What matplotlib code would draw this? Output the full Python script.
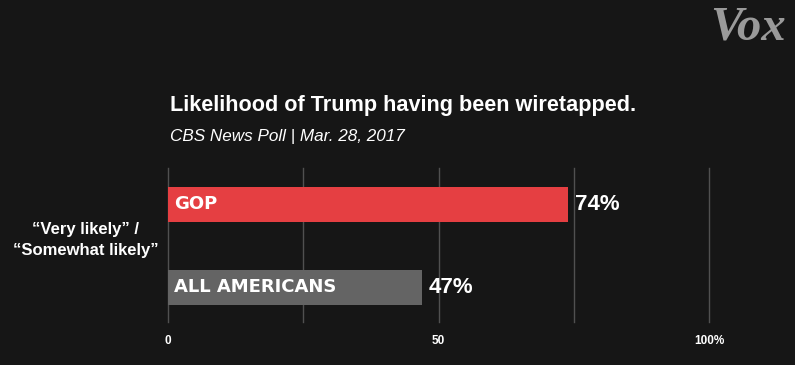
import matplotlib
matplotlib.use("Agg")
import matplotlib.pyplot as plt

categories = ["ALL AMERICANS", "GOP"]
values = [47, 74]
bar_colors = ["#646464", "#e53f42"]
tick_values = [0, 50, 100]
tick_labels = ["0", "50", "100%"]
grid_values = [0, 25, 50, 75, 100]

BG = "#161616"
FONT = ["Liberation Sans", "DejaVu Sans"]

fig = plt.figure(figsize=(7.95, 3.65), dpi=100, facecolor=BG)
ax = fig.add_axes([168/795, 1-322/365, 541/795, 154/365])
ax.set_facecolor(BG)

ypos = list(range(len(categories)))
ax.barh(ypos, values, height=0.424, color=bar_colors, zorder=3)
for g in grid_values:
    ax.axvline(g, color="#505050", lw=1.0, zorder=1, clip_on=False)

ax.set_xlim(0, 100)
ax.set_ylim(-0.424, 1.442)
for s in ax.spines.values():
    s.set_visible(False)
ax.set_yticks([])
ax.set_xticks(tick_values)
ax.set_xticklabels(tick_labels, fontfamily=FONT, fontweight="bold", fontsize=8.5, color="white")
ax.tick_params(axis="x", length=0, pad=9)

for y, v, c in zip(ypos, values, categories):
    ax.text(1.1, y, c, color="white", fontfamily="DejaVu Sans", fontweight="bold",
            fontsize=13, va="center", ha="left", zorder=4)
    ax.text(v + 1.2, y, f"{v}%", color="white", fontfamily=FONT, fontweight="bold",
            fontsize=16, va="center", ha="left", zorder=4)

fig.text(170/795, 1-105/365, "Likelihood of Trump having been wiretapped.",
         color="white", fontfamily=FONT, fontweight="bold", fontsize=15.6, va="center", ha="left")
fig.text(170/795, 1-137/365, "CBS News Poll | Mar. 28, 2017",
         color="white", fontfamily=FONT, fontstyle="italic", fontsize=12.3, va="center", ha="left")
fig.text(86/795, 1-240/365, "\u201cVery likely\u201d /\n\u201cSomewhat likely\u201d",
         color="white", fontfamily=FONT, fontweight="bold", fontsize=12, va="center",
         ha="center", linespacing=1.55)
fig.text(748/795, 1-27/365, "Vox", color="#9a9a9a", fontfamily=["Liberation Serif", "DejaVu Serif"],
         fontweight="bold", fontstyle="italic", fontsize=35, va="center", ha="center")

fig.savefig("out.png", dpi=100, facecolor=BG)
